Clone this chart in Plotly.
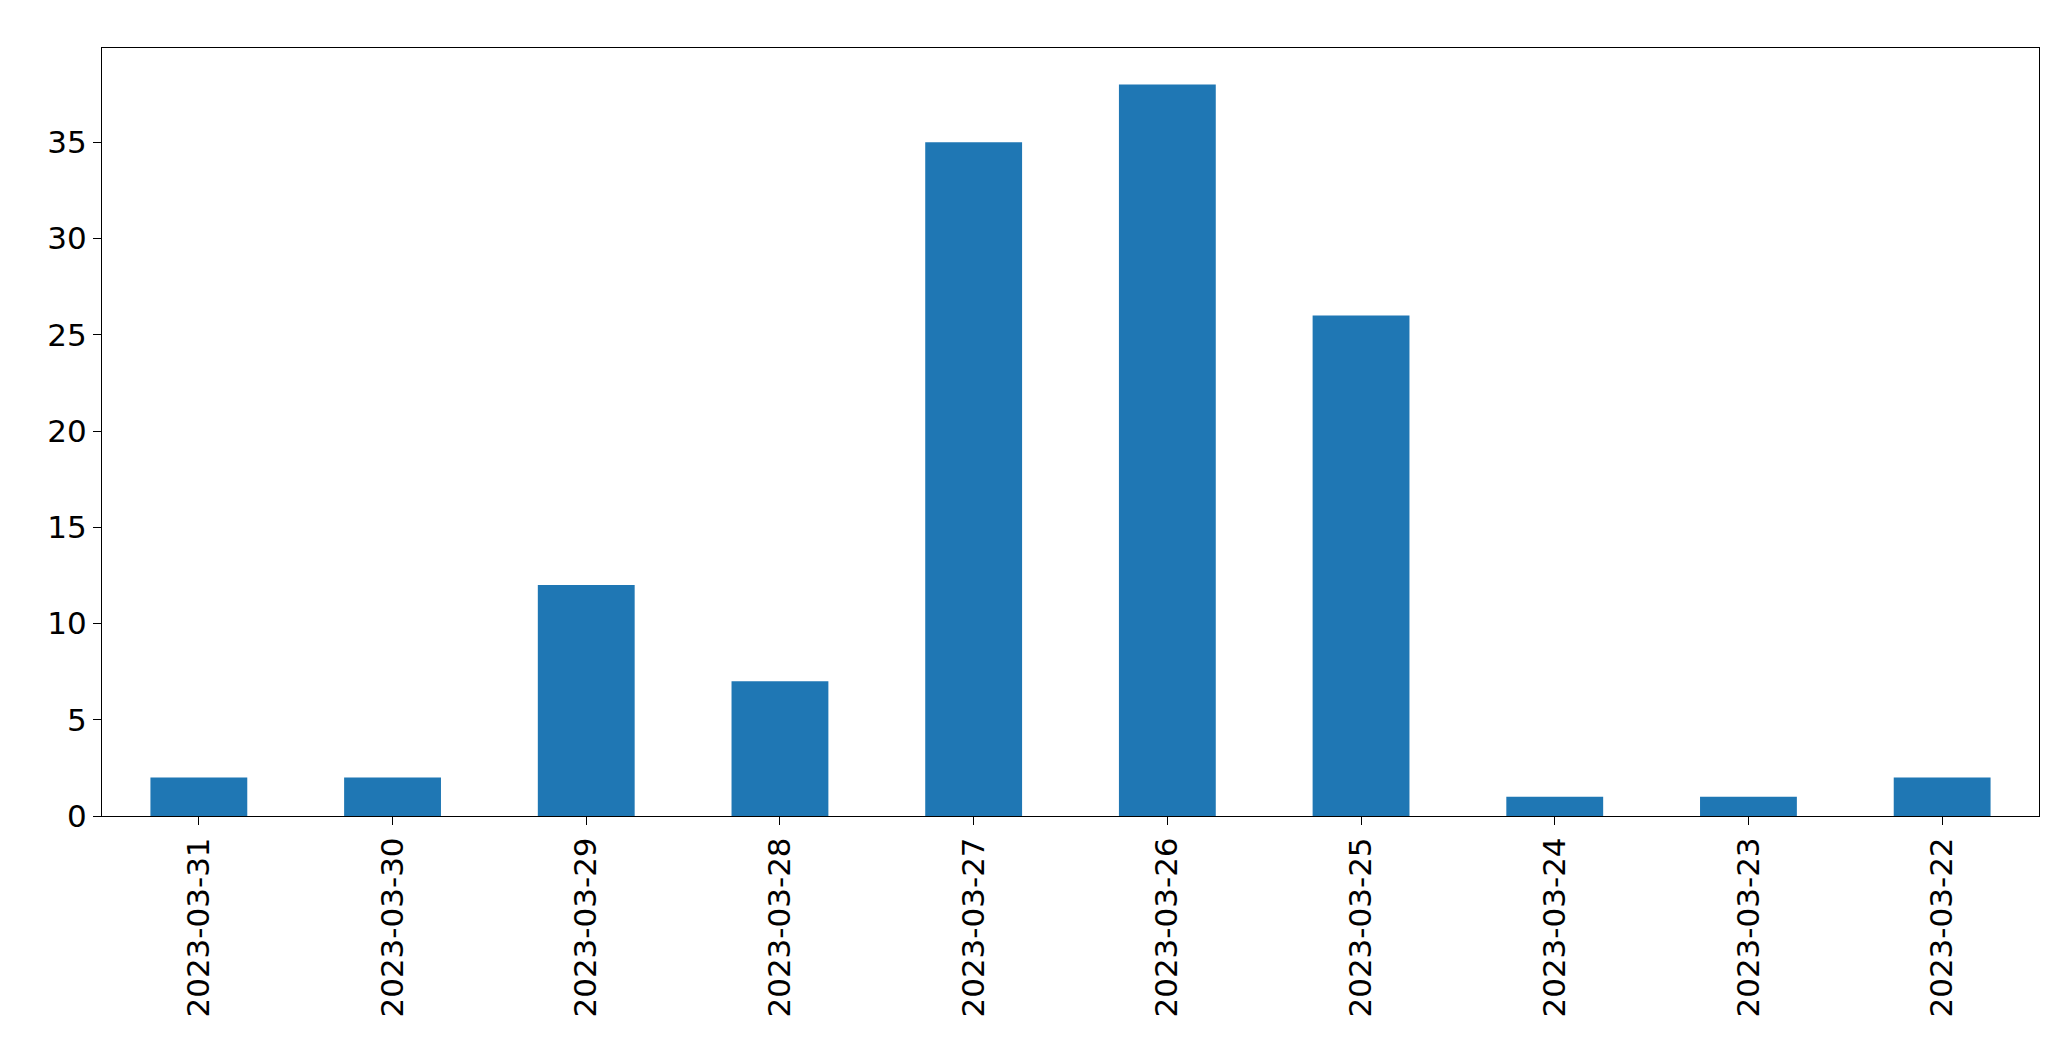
import plotly.graph_objects as go

dates = ["2023-03-31","2023-03-30","2023-03-29","2023-03-28","2023-03-27",
         "2023-03-26","2023-03-25","2023-03-24","2023-03-23","2023-03-22"]
counts = [2, 2, 12, 7, 35, 38, 26, 1, 1, 2]

fig = go.Figure(go.Bar(x=dates, y=counts, width=0.5, marker_color="#1f77b4", marker_line_width=0))
axis = dict(showline=True, linecolor="black", linewidth=1, mirror=True, ticks="outside",
            ticklen=8, tickcolor="black", showgrid=False, zeroline=False,
            tickfont=dict(family="DejaVu Sans", size=31, color="black"))
fig.update_xaxes(**axis, type="category", tickangle=-90, range=[-0.5, 9.5])
fig.update_yaxes(**axis, range=[0, 39.9], tickvals=[0,5,10,15,20,25,30,35])
fig.update_layout(width=2071, height=1061, plot_bgcolor="white", paper_bgcolor="white",
                  margin=dict(l=94, r=40, t=40, b=253), showlegend=False)
fig.write_html("out.html")
